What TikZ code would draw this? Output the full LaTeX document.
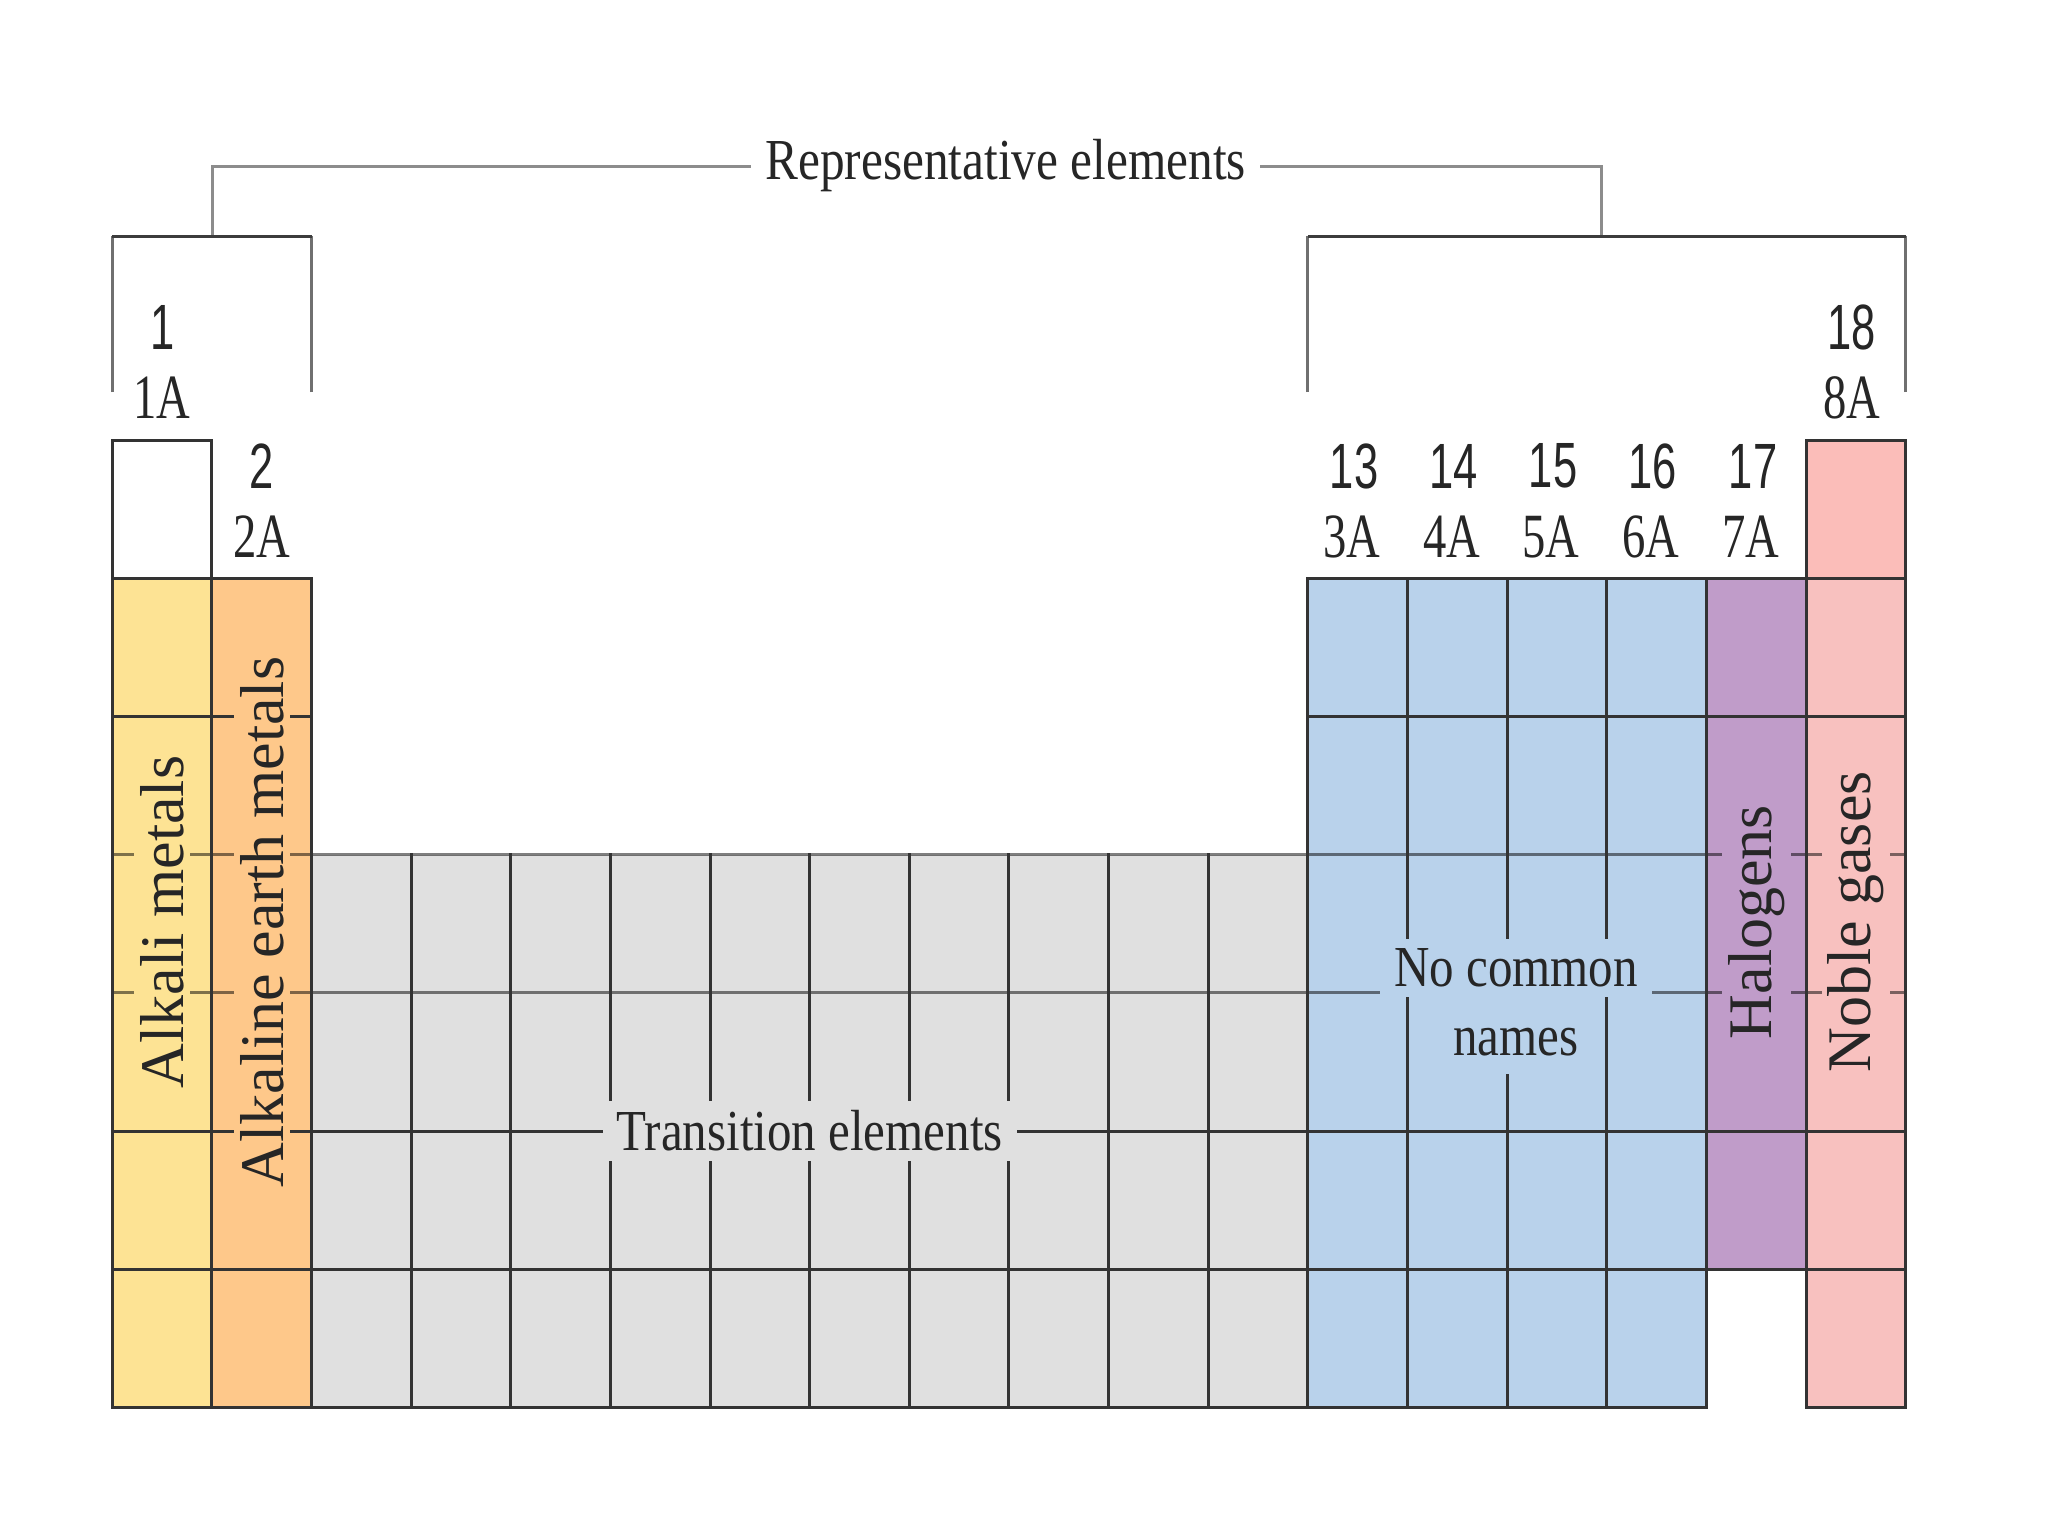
\documentclass[tikz,border=0pt]{standalone}
\usepackage{fontspec}
\setmainfont{Liberation Serif}
\newfontfamily\numfont{Liberation Sans}
\definecolor{yel}{HTML}{FDE394}
\definecolor{ora}{HTML}{FEC88A}
\definecolor{gry}{HTML}{E0E0E0}
\definecolor{blu}{HTML}{B9D2EB}
\definecolor{pur}{HTML}{C09CC9}
\definecolor{pnk}{HTML}{F8C1BF}
\definecolor{pnktop}{HTML}{FBBDB9}
\definecolor{gline}{HTML}{333333}
\definecolor{brk}{HTML}{3C3C3C}
\definecolor{brkv}{HTML}{707070}
\definecolor{topl}{HTML}{8C8C8C}
\begin{document}
\begin{tikzpicture}[x=1pt,y=-1pt,
  gridline/.style={draw=gline,line width=3pt,line cap=rect},
  softline/.style={draw=black,draw opacity=0.5,line width=3.2pt},
  grpnum/.style={font=\numfont\fontsize{64}{70}\selectfont, inner sep=0pt, text=black!85},
  grpA/.style={font=\fontsize{63}{70}\selectfont, inner sep=0pt, text=black!85},
  vlab/.style={rotate=90, font=\fontsize{62}{70}\selectfont, inner xsep=10pt, inner ysep=6pt, text=black!85},
  hlab/.style={font=\fontsize{58}{66}\selectfont, inner xsep=14pt, inner ysep=10pt, text=black!85},
]
\useasboundingbox (0,0) rectangle (2048,1536);
\fill[white] (0,0) rectangle (2048,1536);

\foreach \i in {0,...,18} \coordinate (c\i) at ({112.3+99.63*\i},0);
\foreach \j in {0,...,7} \coordinate (r\j) at (0,{440+138.2*\j});

% fills
\fill[yel] (c0|-r1) rectangle (c1|-r7);
\fill[ora] (c1|-r1) rectangle (c2|-r7);
\fill[gry] (c2|-r3) rectangle (c12|-r7);
\fill[blu] (c12|-r1) rectangle (c16|-r7);
\fill[pur] (c16|-r1) rectangle (c17|-r6);
\fill[pnktop] (c17|-r0) rectangle (c18|-r1);
\fill[pnk] (c17|-r1) rectangle (c18|-r7);

% horizontal grid lines
\draw[gridline] (c0|-r0) -- (c1|-r0);
\draw[gridline] (c17|-r0) -- (c18|-r0);
\foreach \j in {1,2} {
  \draw[gridline] (c0|-r\j) -- (c2|-r\j);
  \draw[gridline] (c12|-r\j) -- (c18|-r\j);
}
\foreach \j in {3,4} \draw[softline] (c0|-r\j) -- (c18|-r\j);
\foreach \j in {5,6} \draw[gridline] (c0|-r\j) -- (c18|-r\j);
\draw[gridline] (c0|-r7) -- (c16|-r7);
\draw[gridline] (c17|-r7) -- (c18|-r7);

% vertical grid lines
\foreach \i in {0,1,17,18} \draw[gridline] (c\i|-r0) -- (c\i|-r7);
\foreach \i in {2,12,13,14,15,16} \draw[gridline] (c\i|-r1) -- (c\i|-r7);
\foreach \i in {3,...,11} \draw[gridline] (c\i|-r3) -- (c\i|-r7);

% brackets
\draw[topl,line width=3pt] (212,236) -- (212,166) -- (1601,166) -- (1601,236);
\draw[brkv,line width=3pt] (112.3,392) -- (112.3,236);
\draw[brkv,line width=3pt] (311.6,392) -- (311.6,236);
\draw[brk,line width=3pt] (112.3,236) -- (311.6,236);
\draw[brkv,line width=3pt] (1307.9,392) -- (1307.9,236);
\draw[brkv,line width=3pt] (1905.6,392) -- (1905.6,236);
\draw[brk,line width=3pt] (1307.9,236) -- (1905.6,236);
\node[hlab,fill=white] (rep) at (1005.7,166) {\scalebox{0.85}[1]{Representative elements}};

% group numbers
\node[grpnum] (g1) at (162.1,327) {\scalebox{0.68}[1]{1}};
\node[grpA] (g1A) at (162.1,398) {\scalebox{0.74}[1]{1A}};
\node[grpnum] (g2) at (261.8,466) {\scalebox{0.68}[1]{2}};
\node[grpA] (g2A) at (261.8,537) {\scalebox{0.74}[1]{2A}};
\node[grpnum] (g13) at (1354,466) {\scalebox{0.68}[1]{13}};
\node[grpA] (g3A) at (1352,537) {\scalebox{0.74}[1]{3A}};
\node[grpnum] (g14) at (1453.5,466) {\scalebox{0.68}[1]{14}};
\node[grpA] (g4A) at (1451.5,537) {\scalebox{0.74}[1]{4A}};
\node[grpnum] (g15) at (1553,466) {\scalebox{0.68}[1]{15}};
\node[grpA] (g5A) at (1551,537) {\scalebox{0.74}[1]{5A}};
\node[grpnum] (g16) at (1652.5,466) {\scalebox{0.68}[1]{16}};
\node[grpA] (g6A) at (1650.5,537) {\scalebox{0.74}[1]{6A}};
\node[grpnum] (g17) at (1753,466) {\scalebox{0.68}[1]{17}};
\node[grpA] (g7A) at (1751,537) {\scalebox{0.74}[1]{7A}};
\node[grpnum] (g18) at (1851.5,327) {\scalebox{0.68}[1]{18}};
\node[grpA] (g8A) at (1851.5,398) {\scalebox{0.74}[1]{8A}};

% family labels
\node[vlab,fill=yel] (alkali) at (162.1,922) {Alkali metals};
\node[vlab,fill=ora] (alkearth) at (261.8,922) {Alkaline earth metals};
\node[vlab,fill=pur] (halo) at (1756.3,922) {Halogens};
\node[vlab,fill=pnk] (noble) at (1855.9,922) {Noble gases};
\node[hlab,fill=gry] (trans) at (809.7,1131) {\scalebox{0.845}[1]{Transition elements}};
\node[hlab,fill=blu] (nocom) at (1516,968) {\scalebox{0.845}[1]{No common}};
\node[hlab,fill=blu,inner ysep=18pt] (names) at (1516,1042) {\scalebox{0.845}[1]{names}};
\fill[blu] (names.north west) rectangle (names.north east |- nocom.south);
\end{tikzpicture}
\end{document}
